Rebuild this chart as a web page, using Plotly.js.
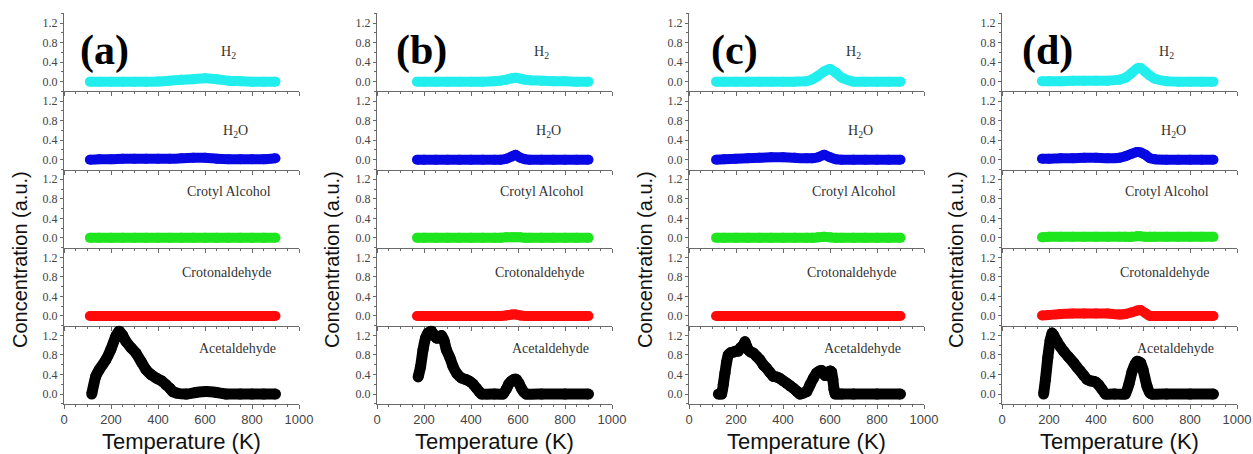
<!DOCTYPE html>
<html>
<head>
<meta charset="utf-8">
<script src="https://cdn.plot.ly/plotly-3.0.1.min.js"></script>
<style>
html,body{margin:0;padding:0;background:#fff;}
#chart{width:1253px;height:454px;}
</style>
</head>
<body>
<div id="chart"></div>
<script>
// ---------------- DATA ----------------
const panels = ["(a)", "(b)", "(c)", "(d)"];
const species = ["H<sub>2</sub>", "H<sub>2</sub>O", "Crotyl Alcohol", "Crotonaldehyde", "Acetaldehyde"];
const xTicks = [0, 200, 400, 600, 800, 1000];
const yTicks = [0.0, 0.4, 0.8, 1.2];

// panel (a)
const a_T = [110,150,200,250,300,350,400,450,500,550,600,650,700,750,800,850,900];
const a_H2 = [0,0,0,0,0,0,0.005,0.02,0.04,0.05,0.07,0.05,0.02,0.01,0,0,0];
const a_H2O = [0,0.01,0.01,0.02,0.02,0.02,0.02,0.02,0.03,0.04,0.04,0.02,0.01,0.01,0.01,0.01,0.03];
const a_Crotyl = [0,0,0,0,0,0,0,0,0,0,0,0,0,0,0,0,0];
const a_Croton = [0,0,0,0,0,0,0,0,0,0,0,0,0,0,0,0,0];
const a_AcT = [118,135,150,178,199,221,235,250,263,285,306,330,349,370,392,415,434,450,463,480,520,560,605,650,690,750,800,850,900];
const a_Acet = [0,0.36,0.5,0.7,0.91,1.19,1.29,1.2,1.08,0.95,0.84,0.65,0.5,0.4,0.33,0.27,0.19,0.12,0.05,0.02,0,0.03,0.05,0.03,0,0,0,0,0];

// panel (b)
const b_T = [170,200,250,300,350,400,450,500,525,550,575,590,610,630,650,700,750,800,850,900];
const b_H2 = [0,0,0,0,0,0,0,0.01,0.02,0.04,0.07,0.08,0.06,0.04,0.03,0.02,0.01,0.01,0,0];
const b_H2O = [0,0,0,0,0,0,0,0,0,0.02,0.07,0.1,0.04,0.01,0,0,0,0,0,0];
const b_Crotyl = [0,0,0,0,0,0,0,0,0,0.01,0.01,0.01,0.01,0,0,0,0,0,0,0];
const b_Croton = [0,0,0,0,0,0,0,0,0,0.01,0.03,0.03,0.01,0,0,0,0,0,0,0];
const b_AcT = [175,185,196,207,217,231,245,252,262,274,285,295,310,323,340,359,377,394,410,423,435,445,500,536,550,560,571,582,593,604,614,625,635,700,800,900];
const b_Acet = [0.35,0.55,0.91,1.15,1.25,1.29,1.2,1.15,1.15,1.2,1.1,0.91,0.75,0.57,0.42,0.33,0.3,0.26,0.2,0.12,0.05,0,0,0,0.1,0.2,0.26,0.3,0.3,0.22,0.12,0.04,0,0,0,0];

// panel (c)
const c_T = [115,150,200,250,300,350,400,450,500,525,550,575,600,625,650,700,750,800,850,900];
const c_H2 = [0,0,0,0,0,0,0,0,0.01,0.05,0.12,0.21,0.26,0.18,0.08,0,0,0,0,0];
const c_H2O = [0,0.01,0.02,0.03,0.04,0.05,0.05,0.04,0.03,0.03,0.05,0.1,0.05,0.01,0,0,0,0,0,0];
const c_Crotyl = [0,0,0,0,0,0,0,0,0,0,0.01,0.02,0.01,0,0,0,0,0,0,0];
const c_Croton = [0,0,0,0,0,0,0,0,0,0,0,0,0,0,0,0,0,0,0,0];
const c_AcT = [125,139,146,153,160,167,178,189,200,210,220,231,238,245,252,263,274,288,302,316,330,345,359,373,387,401,416,430,444,458,472,486,501,515,529,543,555,565,579,590,600,607,612,617,622,650,700,800,900];
const c_Acet = [0,0,0.2,0.43,0.65,0.8,0.85,0.86,0.88,0.88,0.95,1.0,1.07,0.98,0.91,0.86,0.84,0.77,0.7,0.6,0.53,0.44,0.36,0.35,0.32,0.27,0.22,0.17,0.12,0.06,0,0.02,0.05,0.19,0.32,0.43,0.47,0.48,0.38,0.44,0.47,0.45,0.3,0.1,0,0,0,0,0];

// panel (d)
const d_T = [170,200,250,300,350,400,450,500,525,550,575,590,610,630,650,700,750,800,850,900];
const d_H2 = [0.01,0.01,0.01,0.02,0.02,0.02,0.02,0.04,0.08,0.17,0.27,0.28,0.2,0.12,0.06,0.01,0,0,0,0];
const d_H2O = [0.02,0.02,0.03,0.03,0.04,0.04,0.03,0.04,0.07,0.12,0.16,0.15,0.1,0.03,0.01,0,0,0,0,0];
const d_Crotyl = [0.01,0.02,0.02,0.02,0.02,0.02,0.02,0.02,0.02,0.02,0.03,0.03,0.02,0.02,0.02,0.02,0.02,0.02,0.02,0.02];
const d_Croton = [0.01,0.02,0.04,0.05,0.05,0.05,0.05,0.03,0.04,0.07,0.11,0.12,0.06,0,0,0,0,0,0,0];
const d_AcT = [177,185,195,205,213,220,234,248,262,283,305,319,333,348,362,376,390,400,411,425,440,480,525,540,553,567,575,582,590,600,617,630,638,700,800,900];
const d_Acet = [0,0.3,0.75,1.1,1.25,1.2,1.08,0.97,0.88,0.76,0.64,0.55,0.47,0.38,0.3,0.27,0.26,0.24,0.19,0.1,0,0,0,0.2,0.45,0.62,0.67,0.66,0.64,0.5,0.16,0.02,0,0,0,0];

const colors = ["#22eeee", "#0808e4", "#1ee61e", "#ff0a0a", "#000000"];

// ---------------- BUILD ----------------
const series = [
  [[a_T,a_H2],[a_T,a_H2O],[a_T,a_Crotyl],[a_T,a_Croton],[a_AcT,a_Acet]],
  [[b_T,b_H2],[b_T,b_H2O],[b_T,b_Crotyl],[b_T,b_Croton],[b_AcT,b_Acet]],
  [[c_T,c_H2],[c_T,c_H2O],[c_T,c_Crotyl],[c_T,c_Croton],[c_AcT,c_Acet]],
  [[d_T,d_H2],[d_T,d_H2O],[d_T,d_Crotyl],[d_T,d_Croton],[d_AcT,d_Acet]]
];

const W = 1253, H = 454;
const colX0 = [64, 377, 689, 1002], colW = 235;
const rowTop = 13.3, rowH = 78.1;
const axisCol = "#6a6a6a";
const labelX = [700, 730, 700, 690, 740];
const labelY = [0.6, 0.57, 0.94, 0.9, 0.94];
const panelLabelX = [104, 421, 734, 1047];
const yTitleX = [20, 332, 645, 956];

const traces = [];
const layout = {
  width: W, height: H,
  margin: {l:0, r:0, t:0, b:0},
  paper_bgcolor: "#fff", plot_bgcolor: "rgba(0,0,0,0)",
  showlegend: false,
  annotations: []
};
const id = i => (i === 1 ? "" : String(i));

for (let c = 0; c < 4; c++) {
  for (let r = 0; r < 5; r++) {
    const i = c * 5 + r + 1;
    const [xs, ys] = series[c][r];
    const isAcet = r === 4;
    traces.push({
      type: "scatter", mode: "lines+markers",
      x: xs, y: ys,
      xaxis: "x" + id(i), yaxis: "y" + id(i),
      line: {color: colors[r], width: isAcet ? 11 : 10, shape: "spline", smoothing: isAcet ? 0.4 : 0.6},
      marker: {color: colors[r], size: isAcet ? 11 : 10, line: {width: 0}},
      hoverinfo: "skip"
    });
    const top = rowTop + r * rowH;
    layout["xaxis" + id(i)] = {
      domain: [colX0[c] / W, (colX0[c] + colW) / W],
      anchor: "y" + id(i),
      range: [0, 1000],
      tickmode: "array", tickvals: xTicks, ticktext: xTicks.map(String),
      showline: true, linecolor: axisCol, linewidth: 1,
      ticks: "outside", ticklen: 4, tickcolor: axisCol, tickwidth: 1,
      minor: {dtick: 50, tick0: 0, ticks: "outside", ticklen: 2, tickcolor: axisCol, showgrid: false},
      showticklabels: r === 4,
      tickfont: {family: "Liberation Sans, Arial, sans-serif", size: 13, color: "#444"},
      showgrid: false, zeroline: false
    };
    layout["yaxis" + id(i)] = {
      domain: [1 - (top + rowH) / H, 1 - top / H],
      anchor: "x" + id(i),
      range: [-0.2, 1.4],
      tickmode: "array", tickvals: yTicks, ticktext: yTicks.map(v => v.toFixed(1)),
      showline: true, linecolor: axisCol, linewidth: 1,
      ticks: "outside", ticklen: 3, tickcolor: axisCol, tickwidth: 1,
      minor: {dtick: 0.2, tick0: 0, ticks: "outside", ticklen: 2, tickcolor: axisCol, showgrid: false},
      tickfont: {family: "Liberation Serif, Times New Roman, serif", size: 12, color: "#444"},
      showgrid: false, zeroline: false
    };
    layout.annotations.push({
      xref: "x" + id(i), yref: "y" + id(i),
      x: labelX[r], y: labelY[r],
      text: species[r], showarrow: false,
      font: {family: "Liberation Serif, Times New Roman, serif", size: 14, color: "#333"}
    });
  }
  // panel letter
  layout.annotations.push({
    xref: "paper", yref: "paper",
    x: panelLabelX[c] / W, y: 1 - 51 / H,
    xanchor: "center", yanchor: "middle",
    text: "<b>" + panels[c] + "</b>", showarrow: false,
    font: {family: "Liberation Serif, Times New Roman, serif", size: 42, color: "#000"}
  });
  // x title
  layout.annotations.push({
    xref: "paper", yref: "paper",
    x: (colX0[c] + colW / 2) / W, y: 1 - 441 / H,
    xanchor: "center", yanchor: "middle",
    text: "Temperature (K)", showarrow: false,
    font: {family: "Liberation Sans, Arial, sans-serif", size: 22, color: "#111"}
  });
  // y title
  layout.annotations.push({
    xref: "paper", yref: "paper",
    x: yTitleX[c] / W, y: 1 - 260 / H,
    xanchor: "center", yanchor: "middle",
    textangle: -90,
    text: "Concentration (a.u.)", showarrow: false,
    font: {family: "Liberation Sans, Arial, sans-serif", size: 20, color: "#111"}
  });
}

Plotly.newPlot("chart", traces, layout, {displayModeBar: false, staticPlot: true});
</script>
</body>
</html>
